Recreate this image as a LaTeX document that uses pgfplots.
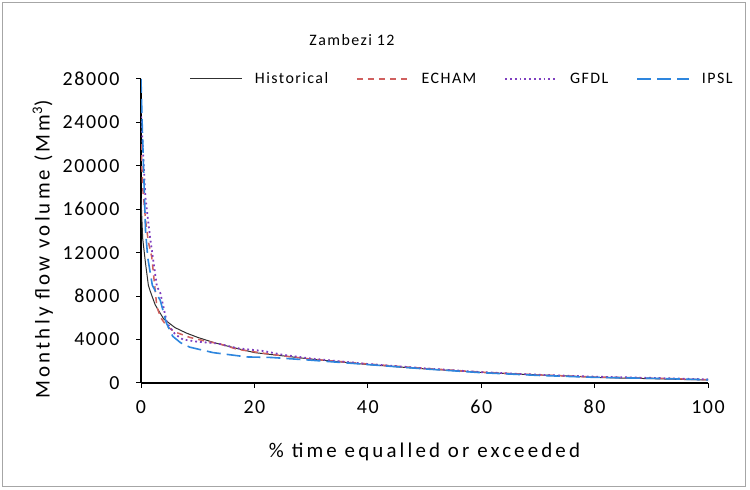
\documentclass[border=0pt]{standalone}
\usepackage{pgfplots}
\pgfplotsset{compat=1.18}
\usepackage{fontspec}
\setmainfont{Carlito}

\definecolor{histc}{HTML}{303030}
\definecolor{echamc}{HTML}{D0605E}
\definecolor{gfdlc}{HTML}{7F3FBF}
\definecolor{ipslc}{HTML}{2E86DE}

\newcommand{\tickfont}{\fontsize{20}{22}\selectfont\addfontfeatures{LetterSpace=8}}
\newcommand{\labfont}{\fontsize{21}{23}\selectfont\addfontfeatures{LetterSpace=15}}
\newcommand{\legfont}{\fontsize{16}{18}\selectfont\addfontfeatures{LetterSpace=9}}

\begin{document}
\begin{tikzpicture}[x=1bp,y=1bp]
\useasboundingbox (0,0) rectangle (750,490);
\draw[black!35, line width=1bp] (2,3) rectangle (745,487);
\node[font=\fontsize{16}{18}\selectfont\addfontfeatures{LetterSpace=9}] at (352,450) {Zambezi 12};
\begin{axis}[
  at={(141bp,107bp)}, anchor=south west,
  scale only axis,
  width=567bp, height=304bp,
  xmin=0, xmax=100, ymin=0, ymax=28000,
  xtick={0,20,...,100},
  ytick={0,4000,...,28000},
  axis x line=bottom, axis y line=left,
  axis line style={-, line width=1.2bp},
  tick align=outside,
  major tick length=5bp,
  tick style={black, line width=1bp},
  scaled y ticks=false,
  /pgf/number format/assume math mode=true,
  /pgf/number format/1000 sep={},
  ticklabel style={font=\tickfont},
  yticklabel={\pgfmathprintnumber{\tick}\hspace*{13bp}},
  xticklabel style={text height=22bp},
  xlabel={\% time equalled or exceeded},
  ylabel={Monthly flow volume (Mm\textsuperscript{3})},
  every axis x label/.style={at={(axis description cs:0.5,-0.227)}, anchor=center, font=\labfont},
  every axis y label/.style={at={(axis description cs:-0.173,0.44)}, anchor=center, rotate=90, font=\labfont},
  legend columns=4,
  legend style={draw=none, fill=none, at={(0.086,1.0)}, anchor=west, inner sep=0pt,
    font=\legfont,
    /tikz/every odd column/.append style={column sep=10bp},
    /tikz/every even column/.append style={column sep=26bp}},
  legend image code/.code={\draw[#1] (0bp,0bp) -- (52bp,0bp);},
]
\addplot[histc, line width=1bp] coordinates {
(0,17000) (0.3,13300) (0.8,11000) (1.3,9000) (1.6,8500) (2.5,7200) (4,5900)
(6,5100) (8,4600) (10,4200) (13,3700) (16,3300) (20,2800) (25,2500) (30,2200)
(35,1950) (40,1700) (45,1500) (50,1300) (55,1150) (60,980) (65,850) (70,750)
(75,650) (80,520) (85,450) (90,400) (95,330) (100,280)};
\addlegendentry{Historical}
\addplot[echamc, line width=1.5bp, dash pattern=on 6bp off 5bp] coordinates {
(0,22000) (0.3,18000) (0.8,15000) (1.3,13000) (1.9,11600) (2.8,7000) (3.5,6000)
(4.6,5200) (6,4700) (8.6,4200) (11,3900) (13.9,3600) (17,3100) (21.5,2750)
(25,2500) (30,2200) (40,1750) (50,1350) (60,1000) (70,750) (80,550) (90,450) (100,300)};
\addlegendentry{ECHAM}
\addplot[gfdlc, line width=1.8bp, dash pattern=on 1.8bp off 3bp] coordinates {
(0,25000) (0.3,22000) (0.8,17000) (1.6,13400) (2.8,8900) (3.4,8300) (4.6,5500)
(6,4500) (7.4,4000) (10,3800) (13.4,3650) (17,3200) (21.5,2950) (25,2600)
(30,2250) (40,1750) (50,1350) (60,1000) (70,760) (80,580) (90,470) (100,330)};
\addlegendentry{GFDL}
\addplot[ipslc, line width=1.6bp, dash pattern=on 14bp off 6bp] coordinates {
(0,28000) (0.2,24000) (0.5,19000) (0.8,14000) (1.2,11500) (2,9000) (3.4,7600)
(4.5,5500) (5.6,4300) (7,3700) (8.6,3300) (12.7,2800) (18.7,2400) (23,2350)
(30,2100) (35,1900) (40,1700) (50,1300) (60,950) (70,700) (80,520) (90,430) (100,300)};
\addlegendentry{IPSL}
\end{axis}
\end{tikzpicture}
\end{document}
